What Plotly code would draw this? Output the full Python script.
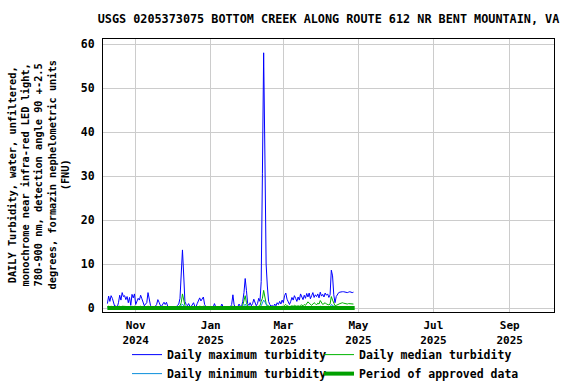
import pandas as pd
import plotly.graph_objects as go

TITLE = "USGS 0205373075 BOTTOM CREEK ALONG ROUTE 612 NR BENT MOUNTAIN, VA"
Y_TITLE = ("DAILY Turbidity, water, unfiltered,<br>monochrome near infra-red LED light,<br>"
           "780-900 nm, detection angle 90 +-2.5<br>degrees, formazin nephelometric units<br>(FNU)")

start_date = "2024-10-09"

daily_max = [
    1.0, 2.7, 1.5, 2.8, 2.2, 1.0, 0.3, 0.5, 0.2, 1.2,
    2.9, 1.8, 3.5, 2.6, 2.8, 1.9, 2.6, 1.2, 2.4, 0.6,
    3.1, 2.3, 3.2, 0.8, 1.6, 2.2, 1.8, 2.9, 2.1, 1.5,
    0.5, 0.9, 1.2, 3.5, 1.6, 0.6, 0.3, 0.2, 0.3, 0.4,
    0.8, 1.9, 1.3, 0.6, 0.4, 1.0, 1.3, 0.8, 1.3, 0.4,
    0.2, 0.2, 0.3, 0.2, 0.2, 0.2, 0.3, 0.6, 0.9, 2.2,
    10.0, 13.2, 7.5, 1.5, 0.8, 0.5, 1.0, 0.4, 0.3, 0.8,
    1.2, 0.4, 0.3, 1.0, 1.8, 2.3, 1.6, 2.0, 2.5, 0.8,
    0.3, 0.2, 0.2, 0.3, 0.2, 0.2, 0.2, 1.0, 0.3, 0.2,
    0.2, 0.2, 0.2, 0.9, 0.3, 0.2, 0.2, 0.2, 0.2, 0.2,
    0.3, 0.8, 3.0, 0.7, 0.3, 0.3, 0.3, 0.9, 0.4, 0.3,
    1.5, 3.5, 6.7, 4.0, 1.0, 0.6, 1.2, 0.5, 1.0, 2.0,
    1.2, 0.5, 1.0, 2.2, 1.5, 6.0, 30.5, 58.0, 35.0, 10.0,
    5.0, 1.5, 0.8, 0.4, 0.6, 0.3, 0.9, 0.5, 1.2, 0.8,
    1.5, 0.9, 1.8, 1.2, 2.8, 3.4, 2.0, 1.2, 0.8, 1.5,
    2.4, 1.8, 2.8, 2.2, 1.5, 2.5, 1.8, 3.2, 2.6, 1.9,
    2.9, 2.2, 3.3, 2.5, 3.4, 2.1, 2.8, 3.5, 2.4, 3.0,
    2.6, 3.2, 2.3, 3.6, 2.7, 3.1, 2.5, 3.4, 2.9, 3.2,
    2.4, 3.0, 8.6, 7.3, 3.0, 1.2, 2.6, 3.2, 3.5, 3.6,
    3.7, 3.7, 3.7, 3.6, 3.6, 3.5, 3.6, 3.7, 3.6, 3.5,
    3.6,
]

daily_median = [
    0.3, 0.4, 0.3, 0.4, 0.3, 0.3, 0.2, 0.2, 0.2, 0.3,
    0.4, 0.3, 0.4, 0.4, 0.3, 0.3, 0.4, 0.3, 0.3, 0.2,
    0.4, 0.3, 0.4, 0.2, 0.3, 0.3, 0.3, 0.4, 0.3, 0.3,
    0.2, 0.2, 0.3, 0.4, 0.3, 0.2, 0.2, 0.2, 0.2, 0.2,
    0.2, 0.3, 0.2, 0.2, 0.2, 0.2, 0.3, 0.2, 0.2, 0.2,
    0.2, 0.2, 0.2, 0.2, 0.2, 0.2, 0.2, 0.2, 0.3, 0.5,
    1.2, 3.2, 2.0, 0.6, 0.3, 0.2, 0.3, 0.2, 0.2, 0.2,
    0.3, 0.2, 0.2, 0.2, 0.3, 0.4, 0.3, 0.3, 0.4, 0.2,
    0.2, 0.2, 0.2, 0.2, 0.2, 0.2, 0.2, 0.3, 0.2, 0.2,
    0.2, 0.2, 0.2, 0.2, 0.2, 0.2, 0.2, 0.2, 0.2, 0.2,
    0.2, 0.2, 0.5, 0.2, 0.2, 0.2, 0.2, 0.2, 0.2, 0.2,
    0.6, 1.5, 2.8, 1.2, 0.4, 0.3, 0.3, 0.2, 0.3, 0.4,
    0.3, 0.2, 0.3, 0.4, 0.5, 1.5, 2.2, 4.0, 2.5, 1.0,
    0.6, 0.4, 0.3, 0.2, 0.2, 0.2, 0.2, 0.2, 0.3, 0.3,
    0.3, 0.3, 0.4, 0.3, 0.6, 0.8, 0.5, 0.4, 0.3, 0.4,
    0.5, 0.4, 0.6, 0.5, 0.4, 0.5, 0.4, 0.6, 0.7, 0.5,
    0.8, 0.6, 1.0, 1.4, 1.1, 0.8, 0.6, 0.9, 1.2, 1.0,
    0.7, 1.1, 0.9, 1.7, 1.3, 0.8, 1.0, 1.2, 0.9, 0.8,
    0.7, 0.9, 2.6, 1.8, 0.9, 0.5, 0.6, 0.8, 0.9, 1.0,
    1.1, 1.2, 1.1, 1.0, 1.0, 0.9, 1.0, 1.0, 0.9, 0.9,
    0.9,
]

daily_min = [
    0.1, 0.2, 0.1, 0.2, 0.2, 0.1, 0.1, 0.1, 0.1, 0.1,
    0.2, 0.1, 0.2, 0.2, 0.2, 0.1, 0.2, 0.1, 0.1, 0.1,
    0.2, 0.1, 0.2, 0.1, 0.1, 0.1, 0.1, 0.2, 0.1, 0.1,
    0.1, 0.1, 0.1, 0.2, 0.1, 0.1, 0.1, 0.1, 0.1, 0.1,
    0.1, 0.1, 0.1, 0.1, 0.1, 0.1, 0.1, 0.1, 0.1, 0.1,
    0.1, 0.1, 0.1, 0.1, 0.1, 0.1, 0.1, 0.1, 0.1, 0.2,
    0.6, 0.9, 0.5, 0.3, 0.1, 0.1, 0.1, 0.1, 0.1, 0.1,
    0.1, 0.1, 0.1, 0.1, 0.1, 0.2, 0.1, 0.1, 0.2, 0.1,
    0.1, 0.1, 0.1, 0.1, 0.1, 0.1, 0.1, 0.1, 0.1, 0.1,
    0.1, 0.1, 0.1, 0.1, 0.1, 0.1, 0.1, 0.1, 0.1, 0.1,
    0.1, 0.1, 0.2, 0.1, 0.1, 0.1, 0.1, 0.1, 0.1, 0.1,
    0.2, 0.5, 0.9, 0.4, 0.2, 0.1, 0.1, 0.1, 0.1, 0.1,
    0.1, 0.1, 0.1, 0.1, 0.2, 0.5, 1.2, 1.8, 1.4, 0.6,
    0.3, 0.2, 0.1, 0.1, 0.1, 0.1, 0.1, 0.1, 0.1, 0.1,
    0.1, 0.1, 0.1, 0.1, 0.2, 0.2, 0.1, 0.1, 0.1, 0.1,
    0.2, 0.1, 0.2, 0.2, 0.1, 0.2, 0.1, 0.2, 0.2, 0.2,
    0.2, 0.2, 0.3, 0.3, 0.3, 0.2, 0.2, 0.3, 0.3, 0.3,
    0.2, 0.3, 0.2, 0.4, 0.3, 0.2, 0.3, 0.3, 0.2, 0.2,
    0.2, 0.2, 0.8, 0.6, 0.3, 0.2, 0.2, 0.3, 0.3, 0.3,
    0.3, 0.3, 0.3, 0.3, 0.3, 0.3, 0.3, 0.3, 0.3, 0.3,
    0.3,
]

approved_start = "2024-10-09"
approved_end = "2025-04-28"
approved_level = [0, 0]

x_tick_vals = ["2024-11-01", "2025-01-01", "2025-03-01", "2025-05-01", "2025-07-01", "2025-09-01"]
x_tick_text = ["Nov<br>2024", "Jan<br>2025", "Mar<br>2025", "May<br>2025", "Jul<br>2025", "Sep<br>2025"]
y_tick_vals = [0, 10, 20, 30, 40, 50, 60]

dates = pd.date_range(start_date, periods=len(daily_max), freq="D")

FONT = "DejaVu Sans Mono"

fig = go.Figure()
fig.add_trace(go.Scatter(x=dates, y=daily_max, mode="lines", name="Daily maximum turbidity",
                         line=dict(color="#0000ff", width=1), legend="legend"))
fig.add_trace(go.Scatter(x=dates, y=daily_median, mode="lines", name="Daily median turbidity",
                         line=dict(color="#00b400", width=1), legend="legend2"))
fig.add_trace(go.Scatter(x=dates, y=daily_min, mode="lines", name="Daily minimum turbidity",
                         line=dict(color="#0a8edc", width=1), legend="legend"))
fig.add_trace(go.Scatter(x=[approved_start, approved_end], y=approved_level, mode="lines",
                         name="Period of approved data", line=dict(color="#00a000", width=4),
                         legend="legend2"))

legend_common = dict(orientation="v", xanchor="left", y=-0.103, yanchor="top",
                     traceorder="normal", font=dict(family=FONT, size=11.5, weight="bold"),
                     tracegroupgap=0, itemsizing="trace", bgcolor="rgba(0,0,0,0)")

fig.update_layout(
    width=576, height=384,
    margin=dict(l=103, r=22, t=39, b=72, autoexpand=False),
    paper_bgcolor="white", plot_bgcolor="white",
    font=dict(family=FONT, size=11, color="black", weight="bold"),
    title=dict(text=TITLE, x=0.5, xref="paper", y=1 - 19 / 384, yref="container",
               yanchor="middle", xanchor="center",
               font=dict(family=FONT, size=11.8, color="black", weight="bold")),
    showlegend=True,
    legend=dict(x=(127 - 103) / 451, **legend_common),
    legend2=dict(x=(319 - 103) / 451, **legend_common),
    annotations=[dict(text=Y_TITLE, textangle=-90, xref="paper", yref="paper",
                      x=-(103 - 38) / 451, y=0.5, xanchor="center", yanchor="middle",
                      showarrow=False, font=dict(family=FONT, size=10.3, weight="bold"))],
)
fig.update_xaxes(type="date", range=["2024-10-05 10:00", "2025-10-07"],
                 tickvals=x_tick_vals, ticktext=x_tick_text,
                 showgrid=True, gridcolor="#cccccc", gridwidth=1,
                 showline=True, linecolor="black", linewidth=1, mirror=True,
                 ticks="", zeroline=False, tickfont=dict(size=11), ticklabelstandoff=3)
fig.update_yaxes(range=[-0.91, 61.14], tickvals=y_tick_vals,
                 showgrid=True, gridcolor="#cccccc", gridwidth=1,
                 showline=True, linecolor="black", linewidth=1, mirror=True,
                 ticks="", zeroline=False, tickfont=dict(size=11.5), ticklabelstandoff=5)

fig.write_html("out.html", config={"displayModeBar": False},
               post_script="document.body.style.margin='0';")
